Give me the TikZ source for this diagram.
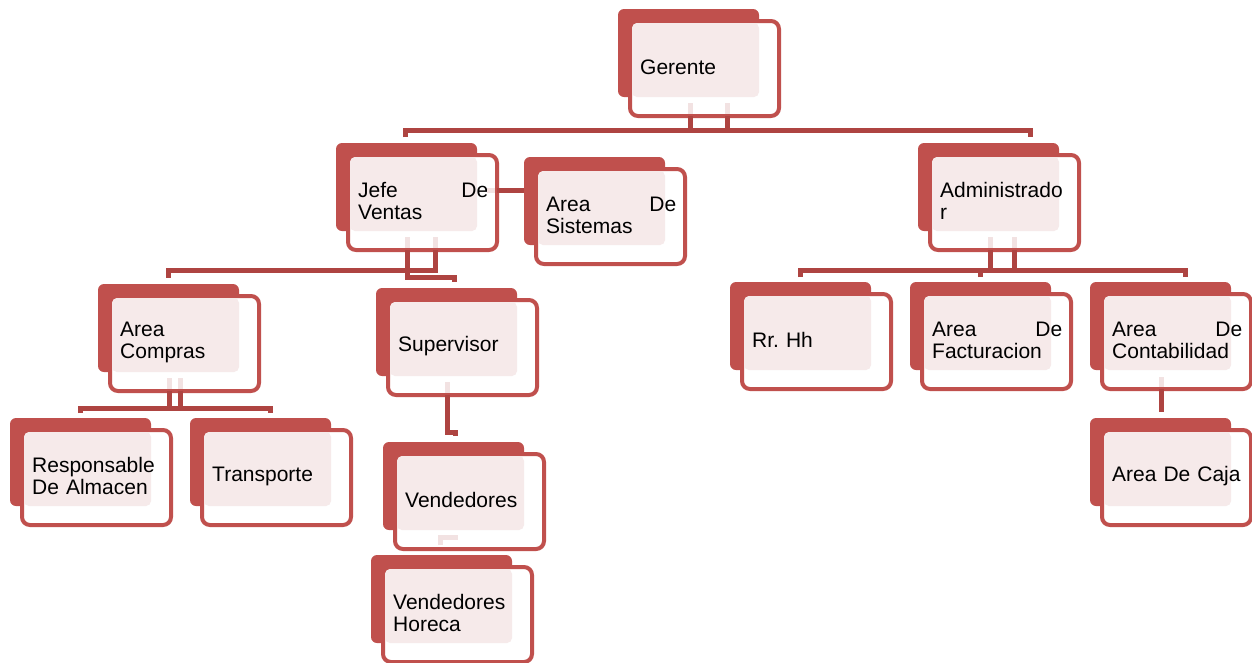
\documentclass[tikz,border=0pt]{standalone}
\usepackage{fontspec}
\setmainfont{Liberation Sans}
\usepackage{tikz}
\usetikzlibrary{positioning, calc}
\definecolor{accent}{HTML}{C0504D}
\definecolor{barred}{HTML}{AE4441}
\definecolor{softpink}{HTML}{F6EAEA}
\definecolor{stubpink}{HTML}{F2E2E2}

\begin{document}
\begin{tikzpicture}[
        x=1pt, y=-1pt,
        back/.style     = {fill=accent, rounded corners=6pt},
        front/.style    = {draw=accent, line width=4pt, fill=white, rounded corners=8pt, minimum width=149pt, minimum height=95pt, inner sep=0pt, outer sep=0pt, anchor=north west},
        tint/.style     = {fill=softpink, rounded corners=5pt},
        unittext/.style = {anchor=west, text width=130pt, align=left, inner sep=0pt, font=\fontsize{21}{22}\selectfont\frenchspacing},
        bar/.style      = {draw=barred, line width=5pt},
        stub/.style     = {draw=stubpink, line width=5pt},
    ]
        \useasboundingbox (0,0) rectangle (1252,662);
        % units: name / back corner x / y / text
        \foreach \n/\x/\y/\t in {ger/618/9/Gerente, jefe/336/143/{Jefe\hfill De\\Ventas},
                sis/524/157/{Area\hfill De\\Sistemas}, adm/918/143/{Administrado\\r},
                com/98/284/{Area\\Compras}, sup/376/288/Supervisor,
                res/10/418/{Responsable\\De Almacen}, tra/190/418/Transporte,
                ven/383/442/Vendedores, hor/371/555/{Vendedores\\Horeca},
                rrhh/730/282/Rr. Hh, fac/910/282/{Area\hfill De\\Facturacion},
                con/1090/282/{Area\hfill De\\Contabilidad}, caj/1090/418/Area De Caja}{
            \fill[back] (\x,\y) rectangle ++(141,88);
            \node[front] (\n) at (\x+12,\y+12) {};
            \fill[tint] (\x+14,\y+14) rectangle (\x+141,\y+88);
            \node[unittext] (\n-t) at (\x+22,\y+58) {\t};
        }
        % free ends of the bars
        \coordinate (gl) at (405.5,137);
        \coordinate (gr) at (1030.5,137);
        \coordinate (jl) at (168,278);
        \coordinate (jr) at (454,282);
        \coordinate (cl) at (80.5,413);
        \coordinate (cr) at (270.5,413);
        \coordinate (sv) at (455,436);
        \coordinate (al) at (800,277);
        \coordinate (am) at (980.5,277);
        \coordinate (ar) at (1185,277);
        % Gerente
        \foreach \dx in {-14.5,22.5}{
            \draw[stub] ($(ger.south)+(\dx,-13)$) -- ++(0,11);
            \draw[bar] ($(ger.south)+(\dx,0)$) -- ++(0,14.5);
        }
        \draw[bar] (gl) -- ++(0,-6.5) -| (gr);
        % Jefe de ventas
        \foreach \dx in {-15.5,13}
            \draw[stub] ($(jefe.south)+(\dx,-13)$) -- ++(0,11);
        \draw[stub] ($(jefe.east)+(-10,-12.5)$) -- ++(8,0);
        \draw[bar] ($(jefe.east)+(0,-12.5)$) -- ($(jefe.east -| sis.west)+(-12,-12.5)$);
        \draw[bar] ($(jefe.south)+(13,0)$) |- ($(jl)+(0,-7.5)$) -- (jl);
        \draw[bar] ($(jefe.south)+(-15.5,0)$) -- ++(0,27) -| (jr);
        % Area compras
        \foreach \dx in {-15,-4}{
            \draw[stub] ($(com.south)+(\dx,-13)$) -- ++(0,11);
            \draw[bar] ($(com.south)+(\dx,0)$) -- ++(0,17);
        }
        \draw[bar] (cl) -- ++(0,-5) -| (cr);
        % Supervisor
        \draw[stub] ($(sup.south)+(-15.5,-13)$) -- ++(0,11);
        \draw[bar] ($(sup.south)+(-15.5,0)$) -- ++(0,37) -| (sv);
        \draw[stub] ($(ven.south)+(-29,-4)$) -- ++(0,-8) -- ++(17,0);
        % Administrador
        \foreach \dx in {-14,10}{
            \draw[stub] ($(adm.south)+(\dx,-13)$) -- ++(0,11);
            \draw[bar] ($(adm.south)+(\dx,0)$) -- ++(0,20);
        }
        \draw[bar] (al) -- ++(0,-7) -| (ar);
        \draw[bar] (am) -- ++(0,-9);
        % Contabilidad
        \draw[stub] ($(con.south)+(-15.5,-12)$) -- ++(0,10);
        \draw[bar] ($(con.south)+(-15.5,0)$) -- ($(caj.north)+(-15.5,-18)$);
    \end{tikzpicture}
\end{document}
